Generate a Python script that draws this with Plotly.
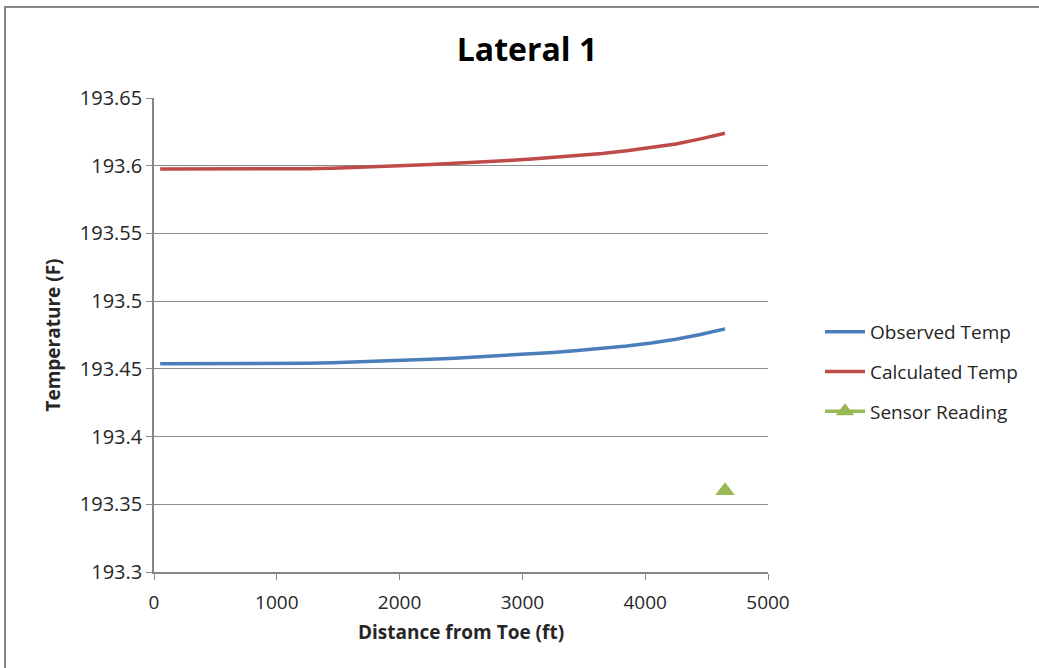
import plotly.graph_objects as go

# Distance from toe (ft) for the modelled profile points
distance_ft = [50, 250, 450, 650, 850, 1050, 1250, 1450, 1650, 1850, 2050, 2250,
               2450, 2650, 2850, 3050, 3250, 3450, 3650, 3850, 4050, 4250, 4450, 4650]

observed_temp = [193.4538, 193.4538, 193.4538, 193.4538, 193.4538, 193.4538,
                 193.4541, 193.4545, 193.4550, 193.4556, 193.4563, 193.4571,
                 193.4579, 193.4588, 193.4598, 193.4609, 193.4621, 193.4635,
                 193.4651, 193.4669, 193.4691, 193.4718, 193.4754, 193.4795]

calculated_temp = [193.5975, 193.5975, 193.5975, 193.5975, 193.5975, 193.5975,
                   193.5978, 193.5982, 193.5987, 193.5994, 193.6001, 193.6009,
                   193.6017, 193.6027, 193.6037, 193.6048, 193.6060, 193.6074,
                   193.6090, 193.6110, 193.6134, 193.6161, 193.6198, 193.6240]

sensor_distance_ft = [4650]
sensor_temp = [193.360]

x_ticks = [0, 1000, 2000, 3000, 4000, 5000]
y_ticks = [193.3, 193.35, 193.4, 193.45, 193.5, 193.55, 193.6, 193.65]
y_tick_text = ["193.3", "193.35", "193.4", "193.45", "193.5", "193.55", "193.6", "193.65"]

W, H = 1039, 668
L, R, T, B = 154, 271, 98, 96
pw, ph = W - L - R, H - T - B

FONT = "Open Sans"
TXT = "#262626"

fig = go.Figure()
fig.add_trace(go.Scatter(x=distance_ft, y=observed_temp, mode="lines",
                         name="Observed Temp", legendgroup="a",
                         line=dict(color="#4A7EBB", width=3.5)))
fig.add_trace(go.Scatter(x=distance_ft, y=calculated_temp, mode="lines",
                         name="Calculated Temp", legendgroup="b",
                         line=dict(color="#BE4B48", width=3.5)))
fig.add_trace(go.Scatter(x=sensor_distance_ft, y=sensor_temp, mode="lines+markers",
                         name="Sensor Reading", legendgroup="c",
                         line=dict(color="#98B954", width=3.5),
                         marker=dict(symbol="triangle-up", size=17, color="#98B954")))


def px_to_paper_x(px):
    return (px - L) / pw


def px_to_paper_y(py):
    return (H - B - py) / ph


# outer chart border
fig.add_shape(type="rect", xref="paper", yref="paper",
              x0=px_to_paper_x(5), x1=px_to_paper_x(1045),
              y0=px_to_paper_y(675), y1=px_to_paper_y(7),
              line=dict(color="#868686", width=2), fillcolor="rgba(0,0,0,0)", layer="below")

fig.update_layout(
    width=W, height=H,
    margin=dict(l=L, r=R, t=T, b=B),
    paper_bgcolor="white", plot_bgcolor="white",
    font=dict(family=FONT, color=TXT),
    title=dict(text="<b>Lateral 1</b>", x=527 / W, xanchor="center",
               y=1 - 50 / H, yanchor="middle",
               font=dict(family=FONT, size=32, color="black")),
    xaxis=dict(range=[0, 5000], tickvals=x_ticks, ticktext=[str(v) for v in x_ticks],
               showgrid=False, zeroline=False,
               showline=True, linecolor="#868686", linewidth=1.5,
               ticks="outside", ticklen=6, tickcolor="#868686",
               ticklabelstandoff=6,
               tickfont=dict(size=19, color=TXT),
               title=dict(text="<b>Distance from Toe (ft)</b>", standoff=12,
                          font=dict(size=19, color=TXT))),
    yaxis=dict(range=[193.3, 193.65], tickvals=y_ticks, ticktext=y_tick_text,
               showgrid=True, gridcolor="#8C8C8C", gridwidth=1, zeroline=False,
               showline=True, linecolor="#868686", linewidth=1.5,
               ticks="outside", ticklen=6, tickcolor="#868686",
               tickfont=dict(size=20, color=TXT),
               title=dict(text="<b>Temperature (F)</b>", standoff=14,
                          font=dict(size=19, color=TXT))),
    legend=dict(x=px_to_paper_x(820), xanchor="left",
                y=px_to_paper_y(372), yanchor="middle",
                traceorder="grouped", tracegroupgap=12,
                font=dict(size=19, color=TXT), itemwidth=40,
                bgcolor="rgba(0,0,0,0)"),
    showlegend=True,
)

fig.write_html("out.html")
